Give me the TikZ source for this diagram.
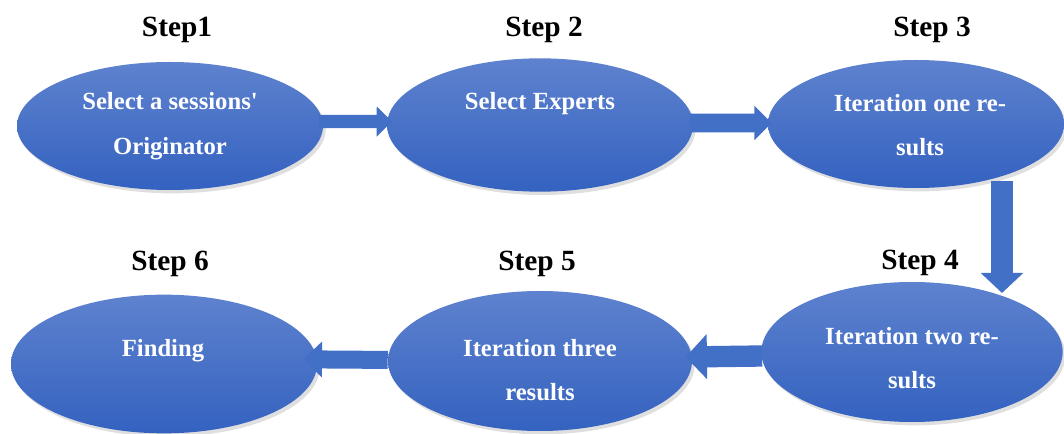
\documentclass[tikz,border=0pt]{standalone}
\usepackage{fontspec}
\setmainfont{Liberation Serif}
\usetikzlibrary{shapes.geometric,arrows.meta,shadows}
\definecolor{etop}{RGB}{94,130,206}
\definecolor{ebot}{RGB}{52,98,192}
\definecolor{arr}{RGB}{66,112,198}
\begin{document}
\begin{tikzpicture}[x=0.75pt,y=-0.75pt,
  ell/.style={ellipse, draw=none, top color=etop, bottom color=ebot, inner sep=0pt,
    drop shadow={shadow xshift=2pt,shadow yshift=-2.5pt,opacity=0.25}},
  etext/.style={text=white, font=\bfseries\fontsize{18.5}{33.5}\selectfont, align=center, inner sep=0pt},
  steplbl/.style={text=black, font=\bfseries\fontsize{22}{26}\selectfont, inner sep=0pt},
  barrow/.style={draw=arr, line width=#1}]
\useasboundingbox (0,0) rectangle (1064,434);

% ellipses
\node[ell, minimum width=229.5pt, minimum height=96pt]  (e1) at (170,126) {};
\node[ell, minimum width=229.5pt, minimum height=100pt] (e2) at (540,125) {};
\node[ell, minimum width=222pt,  minimum height=96pt]  (e3) at (916,124) {};
\node[ell, minimum width=226pt,  minimum height=105pt] (e4) at (912,352) {};
\node[ell, minimum width=228pt,  minimum height=105pt] (e5) at (540,361) {};
\node[ell, minimum width=229.5pt, minimum height=104pt] (e6) at (164,364) {};

% texts in ellipses
\node[etext] (t1) at (170,126) {Select a sessions\textquotesingle\\Originator};
\node[etext] (t2) at (540,104) {Select Experts};
\node[etext] (t3) at (920,125) {Iteration one re-\\sults};
\node[etext] (t4) at (912,358) {Iteration two re-\\sults};
\node[etext] (t5) at (540,370) {Iteration three\\results};
\node[etext] (t6) at (163,351) {Finding};

% step labels
\node[steplbl] (s1) at (177,30) {Step1};
\node[steplbl] (s2) at (544,30) {Step 2};
\node[steplbl] (s3) at (932,30) {Step 3};
\node[steplbl] (s4) at (920,263) {Step 4};
\node[steplbl] (s5) at (537,264) {Step 5};
\node[steplbl] (s6) at (170,264) {Step 6};

% block arrows
\draw[barrow=10pt, -{Triangle[width=22pt,length=11.5pt]}]
  ([xshift=-3.5pt,yshift=3.4pt]e1.east) -- ([xshift=4pt,yshift=2.6pt]e2.west);
\draw[barrow=14pt, -{Triangle[width=25pt,length=13pt]}]
  ([xshift=-2.5pt,yshift=1.5pt]e2.east) -- ([xshift=3pt,yshift=0.8pt]e3.west);
\coordinate (d1) at (1002,181);
\coordinate (d2) at (1002,293);
\draw[barrow=16pt, -{Triangle[width=31pt,length=15pt]}] (d1) -- (d2);
\draw[barrow=16pt, -{Triangle[width=33pt,length=16pt]}]
  ([xshift=0.8pt,yshift=-3pt]e4.west) -- ([xshift=-5pt,yshift=3pt]e5.east);
\draw[barrow=13.5pt, -{Triangle[width=26pt,length=14pt]}]
  ([xshift=0pt,yshift=0.8pt]e5.west) -- ([xshift=-10.5pt,yshift=3.5pt]e6.east);
\end{tikzpicture}
\end{document}
